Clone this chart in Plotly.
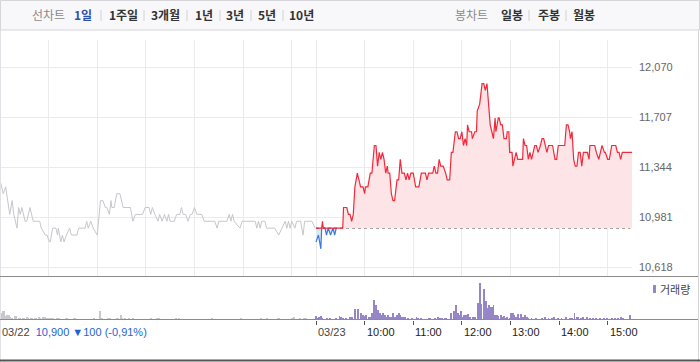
import plotly.graph_objects as go

# ---------------- data ----------------
PREV_CLOSE = 10900
SESSION_MIN = 390  # 09:00 - 15:30

Y_TICKS = [10618, 10981, 11344, 11707, 12070]
Y_TICK_TEXT = ["10,618", "10,981", "11,344", "11,707", "12,070"]

# previous day (03/22), minutes after 09:00
PREV_T = [0, 4, 7, 12, 15, 17, 21, 23, 25, 27, 31, 33, 37, 41, 49, 51, 56, 58, 61, 62,
          65, 69, 71, 72, 75, 77, 79, 82, 86, 88, 95, 97, 105, 107, 109, 112, 115, 120, 124, 127,
          130, 132, 135, 137, 138, 141, 144, 148, 152, 161, 164, 167, 176, 179, 184, 186, 188, 191, 195, 197,
          200, 203, 206, 208, 210, 215, 218, 222, 224, 226, 229, 232, 235, 237, 240, 243, 249, 252, 265, 268,
          270, 280, 283, 285, 287, 289, 296, 299, 315, 317, 319, 321, 323, 327, 329, 339, 344, 348, 352, 354,
          356, 358, 360, 364, 366, 371, 374, 376, 385, 389]
PREV_P = [11250, 11150, 11200, 11000, 11100, 11000, 10900, 11050, 11000, 11050, 10950, 10950, 11050, 10950, 10950, 10900, 10850, 10850, 10800, 10800,
          10900, 10900, 10850, 10900, 10800, 10850, 10800, 10850, 10900, 10850, 10850, 10900, 10900, 10950, 10900, 10950, 10900, 10850, 11100, 11100,
          11050, 11050, 11000, 11100, 11050, 11050, 11150, 11150, 11050, 11050, 10950, 11000, 11000, 11050, 11050, 11000, 11050, 11000, 10950, 11000,
          10950, 11000, 10950, 11000, 10950, 10950, 11000, 11000, 11050, 11000, 11000, 10950, 11000, 11000, 11050, 11000, 11000, 10950, 10950, 10900,
          10950, 10950, 11000, 10950, 11000, 10950, 10900, 10950, 10950, 10900, 10950, 10900, 10950, 10950, 10900, 10900, 10850, 10900, 10950, 10900,
          10950, 10900, 10950, 10900, 10950, 10950, 10850, 10950, 10950, 10900]

# today (03/23), minutes after 09:00
TODAY_T = [0, 3, 6, 7, 8, 9, 11, 13, 15, 18, 21, 23, 25, 33, 34, 38, 40, 42, 44, 46,
           48, 51, 53, 55, 58, 60, 61, 64, 67, 69, 72, 74, 76, 78, 80, 82, 84, 86, 88, 89,
           91, 93, 95, 97, 100, 102, 104, 106, 109, 111, 113, 115, 117, 120, 123, 127, 130, 135, 137, 139,
           144, 146, 148, 150, 152, 154, 157, 160, 162, 165, 167, 169, 172, 174, 176, 178, 180, 182, 184, 186,
           187, 189, 190, 192, 193, 196, 198, 199, 202, 203, 205, 207, 209, 211, 213, 215, 217, 219, 221, 222,
           225, 226, 228, 230, 232, 235, 236, 238, 239, 242, 243, 245, 247, 249, 252, 255, 256, 258, 260, 262,
           264, 266, 268, 270, 272, 274, 277, 279, 281, 283, 285, 287, 289, 292, 295, 297, 299, 302, 305, 307,
           309, 311, 313, 314, 316, 318, 320, 322, 324, 326, 328, 330, 332, 335, 337, 338, 344, 346, 349, 351,
           353, 356, 357, 360, 362, 365, 370, 372, 374, 376, 378, 381, 390]
TODAY_P = [10800, 10850, 10750, 10900, 10950, 10900, 10900, 10850, 10900, 10850, 10900, 10850, 10900, 10900, 11050, 11050, 11000, 11000, 10950, 11000,
           11200, 11300, 11250, 11200, 11200, 11150, 11200, 11200, 11300, 11300, 11500, 11500, 11350, 11450, 11400, 11450, 11400, 11300, 11350, 11300,
           11300, 11150, 11100, 11100, 11250, 11250, 11400, 11300, 11300, 11250, 11300, 11250, 11300, 11300, 11200, 11200, 11300, 11300, 11250, 11300,
           11300, 11350, 11300, 11300, 11400, 11350, 11350, 11300, 11250, 11250, 11450, 11450, 11600, 11600, 11550, 11550, 11600, 11500, 11550, 11500,
           11650, 11600, 11600, 11600, 11550, 11600, 11600, 11750, 11800, 11850, 11950, 11950, 11900, 11950, 11800, 11650, 11600, 11550, 11700, 11600,
           11700, 11700, 11650, 11650, 11550, 11550, 11600, 11600, 11450, 11450, 11350, 11400, 11450, 11400, 11400, 11400, 11550, 11500, 11500, 11400,
           11450, 11400, 11450, 11500, 11500, 11450, 11500, 11550, 11550, 11500, 11450, 11500, 11500, 11500, 11400, 11400, 11500, 11500, 11500, 11500,
           11650, 11650, 11600, 11550, 11600, 11400, 11350, 11350, 11450, 11450, 11350, 11450, 11450, 11450, 11400, 11500, 11500, 11450, 11400, 11450,
           11500, 11450, 11450, 11400, 11400, 11500, 11500, 11450, 11450, 11400, 11450, 11450, 11450]

# volume (relative units)
PREV_VOL_T = [0, 2, 4, 5, 7, 9, 11, 13, 15, 18, 20, 23, 25, 28, 30, 33, 35, 38, 40, 43,
              45, 48, 50, 53, 55, 58, 60, 63, 65, 70, 73, 81, 83, 91, 93, 116, 123, 126, 133, 136,
              144, 146, 149, 151, 154, 159, 164, 186, 194, 196, 217, 221, 262, 297, 322, 330, 343, 345, 360, 363,
              370, 375, 378]
PREV_VOL = [11, 7, 9, 9, 4, 5, 5, 3, 1, 4, 4, 1, 1, 1, 1, 3, 2, 2, 2, 2,
            1, 3, 2, 3, 3, 2, 2, 2, 2, 1, 1, 1, 1, 1, 1, 1, 9, 1, 1, 1,
            1, 2, 5, 1, 1, 2, 2, 1, 1, 1, 1, 1, 1, 1, 1, 1, 1, 1, 1, 3,
            1, 2, 2]
TODAY_VOL_T = [0, 2, 4, 6, 8, 14, 17, 25, 29, 31, 33, 37, 42, 44, 48, 52, 56, 58, 60, 62,
               65, 67, 69, 72, 74, 76, 77, 79, 81, 83, 85, 87, 89, 91, 93, 95, 98, 100, 102, 104,
               106, 108, 110, 114, 118, 124, 126, 130, 139, 141, 147, 151, 153, 156, 159, 161, 167, 170, 173, 175,
               177, 179, 181, 183, 185, 188, 190, 194, 196, 200, 202, 204, 207, 208, 210, 212, 213, 215, 217, 219,
               221, 223, 225, 228, 230, 232, 234, 236, 239, 241, 243, 245, 247, 249, 252, 253, 256, 258, 260, 262,
               266, 272, 279, 283, 287, 291, 294, 299, 303, 309, 314, 316, 319, 322, 324, 327, 330, 335, 338, 342,
               346, 351, 355, 359, 365, 369, 373, 376, 379, 388]
TODAY_VOL = [4, 2, 3, 4, 2, 2, 1, 1, 4, 3, 2, 2, 3, 3, 11, 11, 7, 5, 4, 5,
             3, 3, 7, 20, 15, 10, 5, 7, 5, 7, 5, 3, 5, 3, 3, 7, 3, 5, 7, 5,
             3, 3, 3, 2, 1, 3, 1, 1, 1, 1, 1, 3, 1, 1, 1, 1, 7, 9, 15, 7,
             5, 9, 3, 5, 5, 6, 3, 3, 3, 17, 37, 16, 31, 24, 19, 12, 15, 13, 13, 15,
             5, 5, 4, 5, 3, 4, 1, 3, 1, 7, 7, 5, 3, 6, 1, 6, 3, 5, 3, 1,
             1, 1, 1, 3, 1, 1, 3, 1, 1, 3, 1, 1, 7, 3, 3, 1, 3, 3, 1, 1,
             1, 1, 1, 1, 2, 1, 2, 3, 1, 5]

DATE_PREV = "03/22"
DATE_TODAY = "03/23"
PREV_SUMMARY = "10,900 ▼100 (-0,91%)"
HOUR_LABELS = ["10:00", "11:00", "12:00", "13:00", "14:00", "15:00"]
HOUR_OFFSETS = [60, 120, 180, 240, 300, 360]  # minutes after 09:00

LEFT_MENU = ["1일", "1주일", "3개월", "1년", "3년", "5년", "10년"]
RIGHT_MENU = ["일봉", "주봉", "월봉"]

# ---------------- layout helpers ----------------
W, H = 700, 362
def px(x):
    return x / W
def py(y):
    return 1 - y / H

X_RIGHT = 632
PLOT_TOP, PLOT_BOT = 40, 276
VOL_BOT = 319.5
PX_PER_WON = (267 - 67) / (Y_TICKS[-1] - Y_TICKS[0])
y_lo = Y_TICKS[0] - (PLOT_BOT - 267) / PX_PER_WON
y_hi = Y_TICKS[-1] + (67 - PLOT_TOP) / PX_PER_WON

FONT = "Noto Sans CJK KR, Liberation Sans, Arial, sans-serif"
NUMFONT = "Liberation Sans, Arial, Noto Sans CJK KR, sans-serif"

RED = "#f4283b"
PINK = "#fde4e7"
BLUE = "#3a7ade"
LBLUE = "#dce8f7"
GRAY_LINE = "#c6c7cc"
GRID = "#ebebeb"

fig = go.Figure()

# previous day line
fig.add_trace(go.Scatter(x=PREV_T, y=PREV_P, mode="lines",
                         line=dict(color=GRAY_LINE, width=1), xaxis="x", yaxis="y"))

today_x = [SESSION_MIN + t for t in TODAY_T]
base = [PREV_CLOSE] * len(today_x)
last_below = max(i for i, p in enumerate(TODAY_P) if p < PREV_CLOSE)
nb = min(last_below + 2, len(today_x))

# blue (below previous close)
fig.add_trace(go.Scatter(x=today_x[:nb], y=base[:nb], mode="lines", line=dict(width=0)))
fig.add_trace(go.Scatter(x=today_x[:nb], y=[min(p, PREV_CLOSE) for p in TODAY_P[:nb]],
                         mode="lines", fill="tonexty", fillcolor=LBLUE,
                         line=dict(color=BLUE, width=1.2)))
# dotted previous close
fig.add_trace(go.Scatter(x=[SESSION_MIN, 2 * SESSION_MIN - 2], y=[PREV_CLOSE, PREV_CLOSE], mode="lines",
                         line=dict(color="#555555", width=1, dash="dot")))
# red (above previous close)
fig.add_trace(go.Scatter(x=today_x, y=base, mode="lines", line=dict(width=0)))
fig.add_trace(go.Scatter(x=today_x, y=[max(p, PREV_CLOSE) for p in TODAY_P],
                         mode="lines", fill="tonexty", fillcolor=PINK,
                         line=dict(color=RED, width=1.2)))

# volume
fig.add_trace(go.Bar(x=PREV_VOL_T, y=PREV_VOL, xaxis="x2", yaxis="y2",
                     marker=dict(color="#c9c9cd", line=dict(width=0)), width=1.1))
fig.add_trace(go.Bar(x=[SESSION_MIN + t for t in TODAY_VOL_T], y=TODAY_VOL, xaxis="x2", yaxis="y2",
                     marker=dict(color="#9685c7", line=dict(width=0)), width=1.1))

grid_vals = HOUR_OFFSETS + [SESSION_MIN] + [SESSION_MIN + h for h in HOUR_OFFSETS]
vol_ticks = [0, SESSION_MIN] + [SESSION_MIN + h for h in HOUR_OFFSETS]

shapes = []
# top menu bar
shapes.append(dict(type="rect", xref="paper", yref="paper", x0=px(0.5), x1=px(699.5), y0=py(30), y1=py(0.5),
                   fillcolor="#f8f8fa", line=dict(color="#d5d5da", width=1), layer="below"))
# outer right/left border
shapes.append(dict(type="line", xref="paper", yref="paper", x0=px(698.5), x1=px(698.5), y0=py(362), y1=py(30),
                   line=dict(color="#d5d5da", width=1)))
shapes.append(dict(type="line", xref="paper", yref="paper", x0=px(0.5), x1=px(0.5), y0=py(362), y1=py(30),
                   line=dict(color="#e2e2e6", width=1)))
# separators between chart and volume, and volume baseline
shapes.append(dict(type="line", xref="paper", yref="paper", x0=0, x1=px(698), y0=py(276.5), y1=py(276.5),
                   line=dict(color="#8c8c8c", width=1)))
shapes.append(dict(type="line", xref="paper", yref="paper", x0=0, x1=px(698), y0=py(VOL_BOT), y1=py(VOL_BOT),
                   line=dict(color="#8c8c8c", width=1)))
# bottom dark border
shapes.append(dict(type="line", xref="paper", yref="paper", x0=0, x1=1, y0=py(360.5), y1=py(360.5),
                   line=dict(color="#555555", width=2)))
# menu separators
for sx in [101, 144, 187, 220, 251, 283, 529, 566]:
    shapes.append(dict(type="line", xref="paper", yref="paper", x0=px(sx), x1=px(sx), y0=py(21), y1=py(10),
                       line=dict(color="#d2d2d6", width=1)))
# volume legend swatch
shapes.append(dict(type="rect", xref="paper", yref="paper", x0=px(653), x1=px(656), y0=py(293), y1=py(285),
                   fillcolor="#9685c7", line=dict(width=0)))

ann = []
def add_text(x, y, text, color, size=12, bold=False, anchor="center", font=FONT):
    ann.append(dict(xref="paper", yref="paper", x=px(x), y=py(y), text=("<b>%s</b>" % text) if bold else text,
                    showarrow=False, xanchor=anchor, yanchor="middle",
                    font=dict(family=font, size=size, color=color)))

add_text(48, 15, "선차트", "#8a8a8a", 12)
menu_x = [83, 123.5, 165, 204, 234.5, 266.5, 301.5]
for i, (lbl, mx) in enumerate(zip(LEFT_MENU, menu_x)):
    add_text(mx, 15, lbl, "#2f52a8" if i == 0 else "#333333", 12, bold=True)
add_text(471.5, 15, "봉차트", "#8a8a8a", 12)
for lbl, mx in zip(RIGHT_MENU, [511.5, 548.5, 583.5]):
    add_text(mx, 15, lbl, "#333333", 12, bold=True)

add_text(658, 289, "거래량", "#444444", 11, anchor="left")

# x labels under volume axis
ann.append(dict(xref="x2", yref="paper", x=0, y=py(332), xanchor="left", yanchor="middle", showarrow=False,
                text=DATE_PREV + "&nbsp;&nbsp;<span style='color:#1f63d3'>" + PREV_SUMMARY + "</span>",
                font=dict(family=NUMFONT, size=11, color="#444444")))
ann.append(dict(xref="x2", yref="paper", x=SESSION_MIN, y=py(332), xanchor="left", yanchor="middle", showarrow=False,
                text=DATE_TODAY, font=dict(family=NUMFONT, size=11, color="#444444")))
for lbl, h in zip(HOUR_LABELS, HOUR_OFFSETS):
    ann.append(dict(xref="x2", yref="paper", x=SESSION_MIN + h, y=py(332), xanchor="left", yanchor="middle",
                    showarrow=False, text=lbl, font=dict(family=NUMFONT, size=11, color="#222222")))

fig.update_layout(
    width=W, height=H, margin=dict(l=0, r=0, t=0, b=0),
    paper_bgcolor="white", plot_bgcolor="rgba(0,0,0,0)",
    showlegend=False, hovermode=False,
    xaxis=dict(domain=[0, px(X_RIGHT)], range=[0, 2 * SESSION_MIN], tickvals=grid_vals,
               showticklabels=False, showgrid=True, gridcolor=GRID, gridwidth=1,
               zeroline=False, showline=False, ticks="", fixedrange=True),
    yaxis=dict(domain=[py(PLOT_BOT), py(PLOT_TOP)], range=[y_lo, y_hi], side="right",
               tickvals=Y_TICKS, ticktext=Y_TICK_TEXT, ticks="", ticklabelstandoff=6,
               tickfont=dict(family=NUMFONT, size=11, color="#666666"),
               showgrid=True, gridcolor=GRID, gridwidth=1, zeroline=False, showline=False, fixedrange=True),
    xaxis2=dict(domain=[0, px(X_RIGHT)], range=[0, 2 * SESSION_MIN], anchor="y2",
                tickvals=vol_ticks, ticks="outside", ticklen=4, tickwidth=1, tickcolor="#555555",
                showticklabels=False, showgrid=False, zeroline=False, showline=False, fixedrange=True),
    yaxis2=dict(domain=[py(VOL_BOT), py(PLOT_BOT)], range=[0, 43.5], anchor="x2",
                visible=False, fixedrange=True),
    shapes=shapes, annotations=ann, bargap=0,
)

fig.write_html("out.html", config={"displayModeBar": False},
               post_script="document.body.style.margin='0';document.body.style.padding='0';")
